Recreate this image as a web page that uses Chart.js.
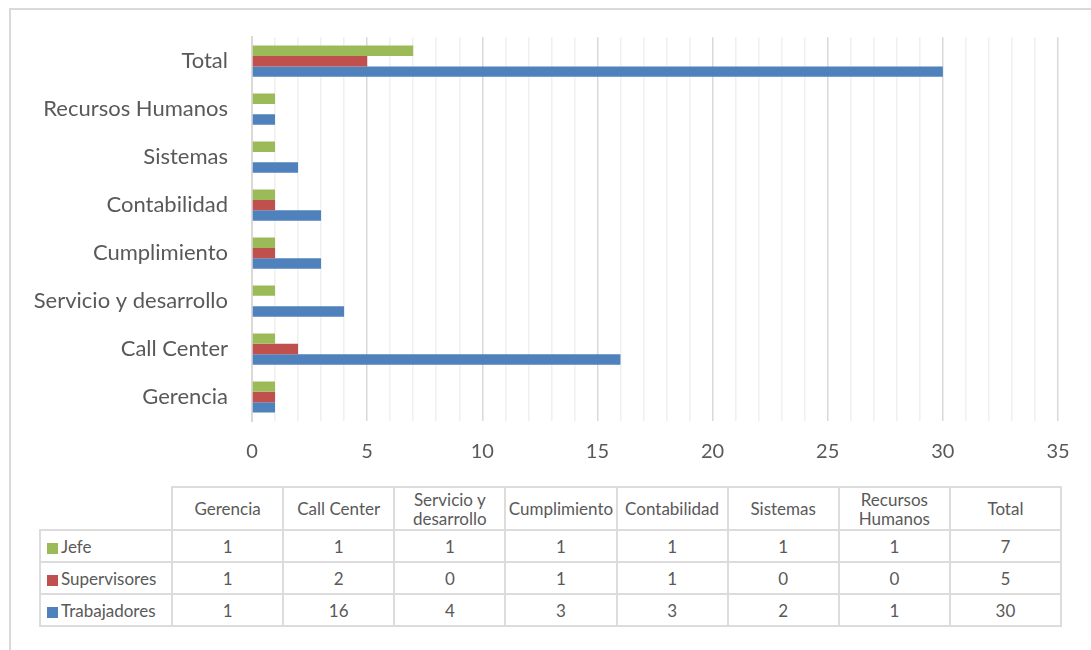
<!DOCTYPE html>
<html>
<head>
<meta charset="utf-8">
<script src="https://cdn.jsdelivr.net/npm/chart.js@4.4.0/dist/chart.umd.min.js"></script>
<style>
  body { margin: 0; background: #fff; font-family: Lato, "Open Sans", sans-serif; }
  #wrap { position: relative; width: 1091px; height: 650px; overflow: hidden; }
  #frame { position: absolute; left: 9px; top: 8px; width: 1200px; height: 800px; border: 2px solid #d9d9d9; }
  #chartBox { position: absolute; left: 0; top: 0; width: 1091px; height: 480px; }
  #dataTable { position: absolute; left: 39px; top: 486px; width: 1023px; border-collapse: collapse; table-layout: fixed; color: #595959; font-size: 17px; }
  #dataTable td, #dataTable th { border: 2px solid #dcdcdc; text-align: center; font-weight: normal; padding: 0 1px; line-height: 19px; }
  #dataTable thead th { height: 41px; }
  #dataTable tbody td { height: 30px; }
  #dataTable .corner { border-top: none; border-left: none; }
  #dataTable .rowHead { text-align: left; padding-left: 6px; white-space: nowrap; }
  .key { display: inline-block; width: 11px; height: 11px; margin-right: 3px; vertical-align: -1px; }
</style>
</head>
<body>
<div id="wrap">
  <div id="frame"></div>
  <div id="chartBox"><canvas id="deptChart" width="1091" height="480"></canvas></div>
  <table id="dataTable"></table>
</div>
<script>
// datos
const categorias = ['Gerencia', 'Call Center', 'Servicio y desarrollo', 'Cumplimiento', 'Contabilidad', 'Sistemas', 'Recursos Humanos', 'Total'];
const jefe = [1, 1, 1, 1, 1, 1, 1, 7];
const supervisores = [1, 2, 0, 1, 1, 0, 0, 5];
const trabajadores = [1, 16, 4, 3, 3, 2, 1, 30];
const xTicks = [0, 5, 10, 15, 20, 25, 30, 35];

const series = [
    { label: 'Jefe', data: jefe, color: '#9bbb59' },
    { label: 'Supervisores', data: supervisores, color: '#c0504d' },
    { label: 'Trabajadores', data: trabajadores, color: '#4f81bd' }
];

// --- tabla de datos debajo del gráfico ---
const table = document.getElementById('dataTable');
let html = '<colgroup><col style="width:132px">';
categorias.forEach(() => { html += '<col>'; });
html += '</colgroup><thead><tr><th class="corner"></th>';
categorias.forEach(c => { html += '<th>' + c + '</th>'; });
html += '</tr></thead><tbody>';
series.forEach(s => {
    html += '<tr><td class="rowHead"><span class="key" style="background:' + s.color + '"></span>' + s.label + '</td>';
    s.data.forEach(v => { html += '<td>' + v + '</td>'; });
    html += '</tr>';
});
html += '</tbody>';
table.innerHTML = html;

// --- gráfico de barras horizontales ---
const ctx = document.getElementById('deptChart').getContext('2d');
new Chart(ctx, {
    type: 'bar',
    data: {
        labels: categorias,
        datasets: series.map(s => ({
            label: s.label,
            data: s.data,
            backgroundColor: s.color,
            borderWidth: 0,
            categoryPercentage: 0.65,
            barPercentage: 1.0
        }))
    },
    options: {
        indexAxis: 'y',
        responsive: false,
        animation: false,
        layout: { padding: { top: 37, right: 33, left: 0, bottom: 0 } },
        scales: {
            x: {
                min: 0,
                max: 35,
                ticks: {
                    stepSize: 1,
                    autoSkip: false,
                    maxRotation: 0,
                    padding: 19,
                    color: '#595959',
                    font: { family: 'Lato', size: 20 },
                    callback: v => xTicks.includes(v) ? v : ''
                },
                grid: {
                    drawTicks: false,
                    color: c => (c.tick && c.tick.value % 5 === 0) ? '#d9d9d9' : '#f0f0f0',
                    lineWidth: 1.5
                },
                border: { display: false },
                afterFit: scale => { scale.height = 59; }
            },
            y: {
                reverse: true,
                ticks: {
                    padding: 24,
                    color: '#595959',
                    font: { family: 'Lato', size: 22 }
                },
                grid: { display: false, drawTicks: false },
                border: { display: true, color: '#d9d9d9', width: 2 },
                afterFit: scale => { scale.width = 252; }
            }
        },
        plugins: {
            legend: { display: false },
            tooltip: { enabled: false }
        }
    }
});
</script>
</body>
</html>
